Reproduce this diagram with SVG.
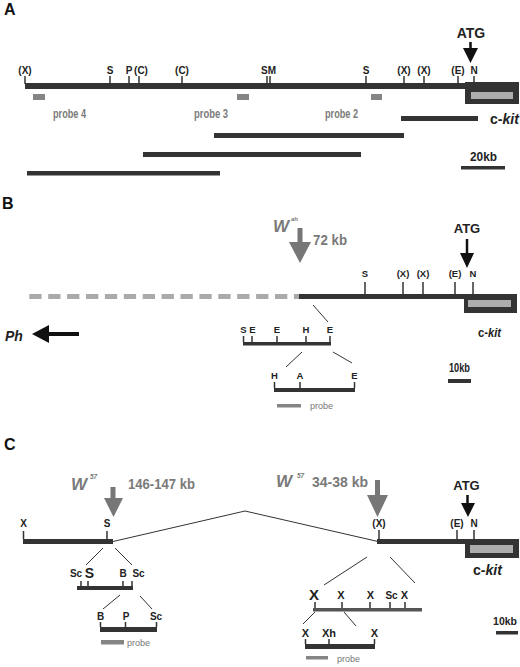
<svg xmlns="http://www.w3.org/2000/svg" width="520" height="667" viewBox="0 0 520 667">
<style>
text{font-family:"Liberation Sans Narrow","Liberation Sans",Arial,sans-serif;font-weight:bold;fill:#222}
.pl{font-family:"Liberation Sans",Arial,sans-serif;font-size:16px;fill:#111}
.site{font-size:10px;text-anchor:middle}
.ss{font-size:9.5px;text-anchor:middle}
.gt{fill:#7a7a7a}
.probe-t{font-weight:normal;font-size:9px;fill:#777}
.bar{fill:#333}
.pb{fill:#858585}
.inner{fill:#adadad}
.tick{stroke:#333;stroke-width:1.5}
.con{stroke:#333;stroke-width:1;fill:none}
.black{fill:#111}
.garrow{fill:#777}
</style>

<!-- Panel A -->
<g id="panelA">
  <text class="pl" x="4" y="15">A</text>
  <g id="A-map">
    <rect class="bar" x="25" y="83" width="441" height="6"/>
    <rect class="bar" x="465" y="82" width="54" height="22"/>
    <rect class="inner" x="471" y="92" width="42" height="7"/>
    <g class="tick">
      <line x1="25" y1="76" x2="25" y2="84"/><line x1="110" y1="76" x2="110" y2="84"/>
      <line x1="129" y1="76" x2="129" y2="84"/><line x1="139" y1="76" x2="139" y2="84"/>
      <line x1="182" y1="76" x2="182" y2="84"/><line x1="267" y1="76" x2="267" y2="84"/>
      <line x1="270" y1="76" x2="270" y2="84"/><line x1="366" y1="76" x2="366" y2="84"/>
      <line x1="404" y1="76" x2="404" y2="84"/><line x1="424" y1="76" x2="424" y2="84"/>
      <line x1="458" y1="76" x2="458" y2="84"/><line x1="474" y1="76" x2="474" y2="84"/>
    </g>
    <text class="site" x="25" y="74">(X)</text>
    <text class="site" x="110" y="74">S</text>
    <text class="site" x="129" y="74">P</text>
    <text class="site" x="141" y="74">(C)</text>
    <text class="site" x="182" y="74">(C)</text>
    <text class="site" x="268.5" y="74">SM</text>
    <text class="site" x="366" y="74">S</text>
    <text class="site" x="404" y="74">(X)</text>
    <text class="site" x="424" y="74">(X)</text>
    <text class="site" x="458" y="74">(E)</text>
    <text class="site" x="474" y="74">N</text>
  </g>
  <g id="A-atg">
    <text x="471" y="38" font-size="14" text-anchor="middle">ATG</text>
    <line x1="470.5" y1="42" x2="470.5" y2="50" stroke="#111" stroke-width="2.5"/>
    <polygon class="black" points="463,48 478,48 470.5,63"/>
  </g>
  <g id="A-probes">
    <rect class="pb" x="33" y="94" width="12" height="6"/>
    <rect class="pb" x="237" y="94" width="12" height="6"/>
    <rect class="pb" x="371" y="94" width="11" height="6"/>
    <text class="gt" x="53" y="118" font-size="12" textLength="33" lengthAdjust="spacingAndGlyphs">probe 4</text>
    <text class="gt" x="194" y="118" font-size="12" textLength="34" lengthAdjust="spacingAndGlyphs">probe 3</text>
    <text class="gt" x="325" y="118" font-size="12" textLength="33" lengthAdjust="spacingAndGlyphs">probe 2</text>
  </g>
  <g id="A-clones">
    <rect class="bar" x="401" y="116" width="77" height="5"/>
    <rect class="bar" x="214" y="133" width="190" height="5"/>
    <rect class="bar" x="143" y="152" width="218" height="5"/>
    <rect class="bar" x="27" y="171" width="193" height="4.5"/>
  </g>
  <g id="A-ckit">
    <text x="490" y="124" font-size="14" textLength="29" lengthAdjust="spacingAndGlyphs">c-<tspan font-style="italic">kit</tspan></text>
  </g>
  <g id="A-scale">
    <text x="470" y="161" font-size="13" font-weight="normal" textLength="27" lengthAdjust="spacingAndGlyphs">20kb</text>
    <rect class="bar" x="461" y="166" width="44" height="3.5"/>
  </g>
</g>

<!-- Panel B -->
<g id="panelB">
  <text class="pl" x="2" y="209">B</text>
  <g id="B-map">
    <line x1="29.3" y1="296.5" x2="299" y2="296.5" stroke="#aaa" stroke-width="5" stroke-dasharray="12.3 6.6"/>
    <rect class="bar" x="299" y="294" width="166" height="5"/>
    <rect class="bar" x="464" y="294" width="53" height="19"/>
    <rect class="inner" x="468" y="300" width="43" height="7"/>
    <g class="tick">
      <line x1="365" y1="282" x2="365" y2="294"/><line x1="403" y1="282" x2="403" y2="294"/>
      <line x1="423" y1="282" x2="423" y2="294"/><line x1="455" y1="282" x2="455" y2="294"/>
      <line x1="473" y1="282" x2="473" y2="294"/>
    </g>
    <text class="ss" x="365" y="277">S</text>
    <text class="ss" x="403" y="277">(X)</text>
    <text class="ss" x="423" y="277">(X)</text>
    <text class="ss" x="455" y="277">(E)</text>
    <text class="ss" x="473" y="277">N</text>
  </g>
  <g id="B-atg">
    <text x="467" y="233" font-size="13" text-anchor="middle">ATG</text>
    <line x1="467" y1="239" x2="467" y2="254" stroke="#111" stroke-width="2.5"/>
    <polygon class="black" points="460,253 474,253 467,268"/>
  </g>
  <g id="B-wah">
    <text class="gt" x="273" y="232" font-size="17" font-style="italic">W</text>
    <text class="gt" x="291" y="221" font-size="6" font-style="italic">ah</text>
    <rect class="garrow" x="297.5" y="228" width="5" height="15"/>
    <polygon class="garrow" points="289,242 311,242 300,263"/>
    <text class="gt" x="313" y="245" font-size="15" textLength="34" lengthAdjust="spacingAndGlyphs">72 kb</text>
  </g>
  <g id="B-ckit">
    <text x="478" y="337" font-size="12" textLength="23" lengthAdjust="spacingAndGlyphs">c-<tspan font-style="italic">kit</tspan></text>
  </g>
  <g id="B-scale">
    <text x="449" y="372" font-size="12" textLength="21" lengthAdjust="spacingAndGlyphs">10kb</text>
    <rect class="bar" x="448" y="379" width="23" height="4"/>
  </g>
  <g id="B-ph">
    <text x="5" y="341" font-size="14" font-style="italic">Ph</text>
    <line x1="47" y1="334" x2="79" y2="334" stroke="#111" stroke-width="4"/>
    <polygon class="black" points="32,334 49,325 49,343"/>
  </g>
  <g id="B-sub1">
    <rect class="bar" x="243" y="342" width="88" height="3.5"/>
    <g class="tick">
      <line x1="243.5" y1="336" x2="243.5" y2="342"/><line x1="252" y1="336" x2="252" y2="342"/>
      <line x1="277" y1="336" x2="277" y2="342"/><line x1="306" y1="336" x2="306" y2="342"/>
      <line x1="330" y1="336" x2="330" y2="342"/>
    </g>
    <text class="ss" x="243.5" y="333">S</text>
    <text class="ss" x="252.5" y="333">E</text>
    <text class="ss" x="277" y="333">E</text>
    <text class="ss" x="306" y="333">H</text>
    <text class="ss" x="330" y="333">E</text>
  </g>
  <g id="B-sub2">
    <rect class="bar" x="274" y="388" width="81" height="4"/>
    <g class="tick">
      <line x1="274.5" y1="382" x2="274.5" y2="388"/><line x1="300" y1="382" x2="300" y2="388"/>
      <line x1="354.5" y1="382" x2="354.5" y2="388"/>
    </g>
    <text class="ss" x="274.5" y="379">H</text>
    <text class="ss" x="300" y="379">A</text>
    <text class="ss" x="354.5" y="379">E</text>
    <rect class="pb" x="277" y="404" width="24" height="3.5"/>
    <text class="probe-t" x="310" y="409">probe</text>
  </g>
</g>

<!-- Panel C -->
<g id="panelC">
  <text class="pl" x="4" y="450">C</text>
  <g id="C-left-map">
    <rect class="bar" x="23" y="539" width="90" height="5"/>
    <g class="tick">
      <line x1="23.5" y1="531" x2="23.5" y2="539"/><line x1="107" y1="531" x2="107" y2="539"/>
    </g>
    <text class="site" x="23.5" y="527" font-weight="normal">X</text>
    <text class="site" x="107" y="527">S</text>
  </g>
  <g id="C-w57-left">
    <text class="gt" x="71" y="490" font-size="17" font-style="italic">W</text>
    <text class="gt" x="90" y="479" font-size="6.5" font-style="italic">57</text>
    <rect class="garrow" x="110.5" y="487" width="5" height="12"/>
    <polygon class="garrow" points="104,498 123,498 113.5,517"/>
    <text class="gt" x="128" y="489" font-size="15" textLength="67" lengthAdjust="spacingAndGlyphs">146-147 kb</text>
  </g>
  <g id="C-right-map">
    <rect class="bar" x="377" y="539" width="89" height="5"/>
    <rect class="bar" x="465" y="539" width="54" height="19"/>
    <rect class="inner" x="470" y="545" width="43" height="8"/>
    <g class="tick">
      <line x1="379" y1="530" x2="379" y2="539"/><line x1="457" y1="530" x2="457" y2="539"/>
      <line x1="474" y1="530" x2="474" y2="539"/>
    </g>
    <text class="site" x="379" y="527">(X)</text>
    <text class="site" x="457" y="527">(E)</text>
    <text class="site" x="474" y="527">N</text>
  </g>
  <g id="C-w57-right">
    <text class="gt" x="276" y="487" font-size="17" font-style="italic">W</text>
    <text class="gt" x="297" y="478" font-size="6.5" font-style="italic">57</text>
    <text class="gt" x="312" y="487" font-size="15" textLength="56" lengthAdjust="spacingAndGlyphs">34-38 kb</text>
    <rect class="garrow" x="375" y="480" width="5" height="16"/>
    <polygon class="garrow" points="367,495 388,495 377.5,517"/>
  </g>
  <g id="C-atg">
    <text x="466.5" y="490" font-size="13" text-anchor="middle">ATG</text>
    <line x1="467.5" y1="495" x2="467.5" y2="504" stroke="#111" stroke-width="2.5"/>
    <polygon class="black" points="461,503 475,503 468,517"/>
  </g>
  <g id="C-ckit">
    <text x="473" y="575" font-size="15" textLength="29" lengthAdjust="spacingAndGlyphs">c-<tspan font-style="italic">kit</tspan></text>
  </g>
  <g id="C-scale">
    <text x="517" y="625" font-size="10.5" text-anchor="end">10kb</text>
    <rect class="bar" x="496" y="631" width="22" height="3.5"/>
  </g>
  <g id="C-left-sub1">
    <rect class="bar" x="77" y="586" width="56" height="4"/>
    <g class="tick">
      <line x1="81" y1="581" x2="81" y2="586"/><line x1="88" y1="581" x2="88" y2="586"/>
      <line x1="123" y1="581" x2="123" y2="586"/><line x1="132" y1="581" x2="132" y2="586"/>
    </g>
    <text class="site" x="76" y="577">Sc</text>
    <text x="89.5" y="578" font-size="14" text-anchor="middle">S</text>
    <text class="site" x="123" y="577">B</text>
    <text class="site" x="138.5" y="577">Sc</text>
  </g>
  <g id="C-left-sub2">
    <rect class="bar" x="100" y="627" width="57" height="5"/>
    <g class="tick">
      <line x1="100.5" y1="622" x2="100.5" y2="627"/><line x1="125.5" y1="622" x2="125.5" y2="627"/>
      <line x1="156.5" y1="622" x2="156.5" y2="627"/>
    </g>
    <text class="site" x="100.5" y="620">B</text>
    <text class="site" x="126" y="620">P</text>
    <text class="site" x="156" y="620">Sc</text>
    <rect class="pb" x="101" y="640" width="23" height="4.5"/>
    <text class="probe-t" x="127" y="646">probe</text>
  </g>
  <g id="C-right-sub1">
    <rect x="313" y="608" width="109" height="3.5" fill="#555"/>
    <g class="tick">
      <line x1="315" y1="602" x2="315" y2="608"/><line x1="342" y1="602" x2="342" y2="608"/>
      <line x1="370" y1="602" x2="370" y2="608"/><line x1="390" y1="602" x2="390" y2="608"/>
      <line x1="405" y1="602" x2="405" y2="608"/>
    </g>
    <text x="314" y="600" font-size="15" text-anchor="middle" font-weight="normal">X</text>
    <text x="341" y="599" font-size="11" text-anchor="middle">X</text>
    <text x="370.5" y="599" font-size="11" text-anchor="middle">X</text>
    <text x="391.5" y="599" font-size="10" text-anchor="middle">Sc</text>
    <text x="404.5" y="599" font-size="11" text-anchor="middle">X</text>
  </g>
  <g id="C-right-sub2">
    <rect class="bar" x="305" y="644" width="70" height="5"/>
    <g class="tick">
      <line x1="305.5" y1="639" x2="305.5" y2="644"/><line x1="329" y1="639" x2="329" y2="644"/>
      <line x1="374.5" y1="639" x2="374.5" y2="644"/>
    </g>
    <text x="305.5" y="637" font-size="11" text-anchor="middle">X</text>
    <text x="329" y="637" font-size="11" text-anchor="middle">Xh</text>
    <text x="374.5" y="637" font-size="11" text-anchor="middle">X</text>
    <rect class="pb" x="306" y="656" width="22" height="3.5"/>
    <text class="probe-t" x="337" y="662">probe</text>
  </g>
</g>

<!-- Connectors -->
<g id="connectors" class="con">
  <line x1="313" y1="305" x2="328" y2="322"/>
  <line x1="302" y1="352" x2="286" y2="367"/>
  <line x1="333" y1="352" x2="352" y2="363"/>
  <polyline points="113,541.5 245,511 378,541.5"/>
  <line x1="103" y1="548" x2="86" y2="565"/>
  <line x1="115" y1="548" x2="132" y2="565"/>
  <line x1="120" y1="595" x2="103" y2="609"/>
  <line x1="140" y1="596" x2="152" y2="609"/>
  <line x1="367" y1="557" x2="324" y2="585"/>
  <line x1="390" y1="557" x2="415" y2="583"/>
  <line x1="315" y1="612" x2="303" y2="624"/>
  <line x1="344" y1="612" x2="356" y2="626"/>
</g>
</svg>
